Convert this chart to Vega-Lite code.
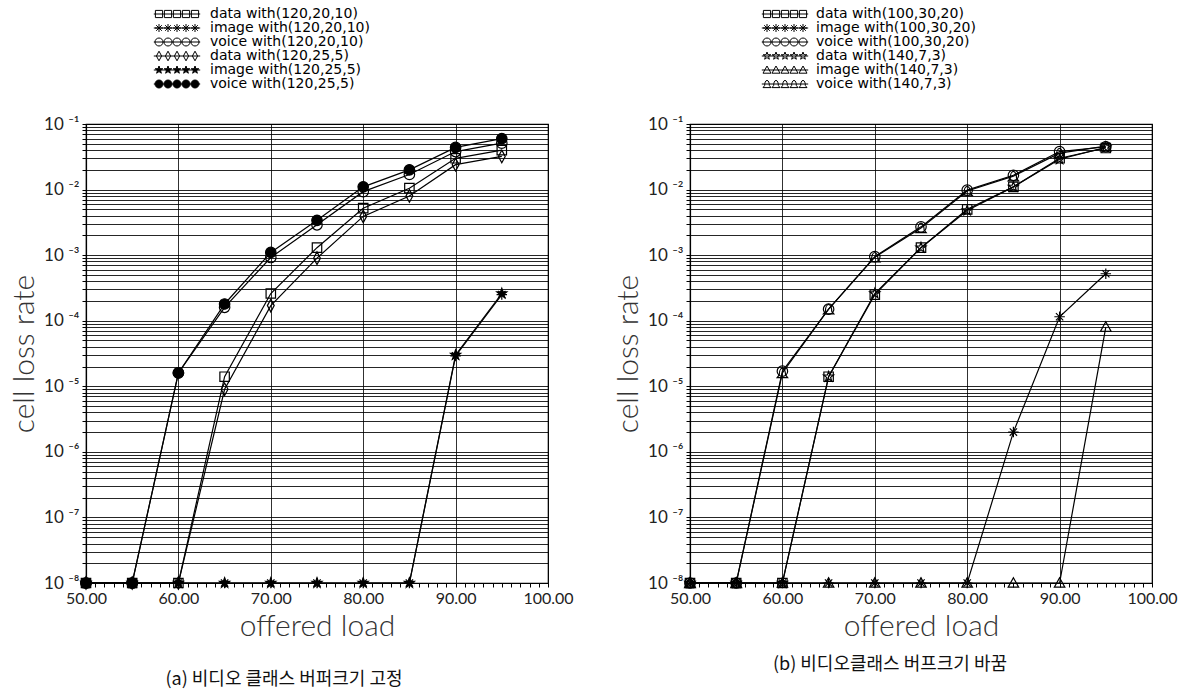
{
  "$schema": "https://vega.github.io/schema/vega-lite/v6.json",
  "padding": {"left": 8, "top": 6, "right": 5, "bottom": 5},
  "background": "white",
  "spacing": 38,
  "datasets": {
    "a": [
      {"s": "data with(120,20,10)", "x": 50, "y": 1e-8},
      {"s": "data with(120,20,10)", "x": 55, "y": 1e-8},
      {"s": "data with(120,20,10)", "x": 60, "y": 1e-8},
      {"s": "data with(120,20,10)", "x": 65, "y": 1.4e-5},
      {"s": "data with(120,20,10)", "x": 70, "y": 2.6e-4},
      {"s": "data with(120,20,10)", "x": 75, "y": 1.3e-3},
      {"s": "data with(120,20,10)", "x": 80, "y": 5.2e-3},
      {"s": "data with(120,20,10)", "x": 85, "y": 1.05e-2},
      {"s": "data with(120,20,10)", "x": 90, "y": 3.0e-2},
      {"s": "data with(120,20,10)", "x": 95, "y": 4.0e-2},
      {"s": "image with(120,20,10)", "x": 50, "y": 1e-8},
      {"s": "image with(120,20,10)", "x": 55, "y": 1e-8},
      {"s": "image with(120,20,10)", "x": 60, "y": 1e-8},
      {"s": "image with(120,20,10)", "x": 65, "y": 1e-8},
      {"s": "image with(120,20,10)", "x": 70, "y": 1e-8},
      {"s": "image with(120,20,10)", "x": 75, "y": 1e-8},
      {"s": "image with(120,20,10)", "x": 80, "y": 1e-8},
      {"s": "image with(120,20,10)", "x": 85, "y": 1e-8},
      {"s": "image with(120,20,10)", "x": 90, "y": 2.9e-5},
      {"s": "image with(120,20,10)", "x": 95, "y": 2.5e-4},
      {"s": "voice with(120,20,10)", "x": 50, "y": 1e-8},
      {"s": "voice with(120,20,10)", "x": 55, "y": 1e-8},
      {"s": "voice with(120,20,10)", "x": 60, "y": 1.6e-5},
      {"s": "voice with(120,20,10)", "x": 65, "y": 1.6e-4},
      {"s": "voice with(120,20,10)", "x": 70, "y": 9.2e-4},
      {"s": "voice with(120,20,10)", "x": 75, "y": 2.9e-3},
      {"s": "voice with(120,20,10)", "x": 80, "y": 9.3e-3},
      {"s": "voice with(120,20,10)", "x": 85, "y": 1.7e-2},
      {"s": "voice with(120,20,10)", "x": 90, "y": 3.8e-2},
      {"s": "voice with(120,20,10)", "x": 95, "y": 5.1e-2},
      {"s": "data with(120,25,5)", "x": 50, "y": 1e-8},
      {"s": "data with(120,25,5)", "x": 55, "y": 1e-8},
      {"s": "data with(120,25,5)", "x": 60, "y": 1e-8},
      {"s": "data with(120,25,5)", "x": 65, "y": 9e-6},
      {"s": "data with(120,25,5)", "x": 70, "y": 1.7e-4},
      {"s": "data with(120,25,5)", "x": 75, "y": 9e-4},
      {"s": "data with(120,25,5)", "x": 80, "y": 3.9e-3},
      {"s": "data with(120,25,5)", "x": 85, "y": 8e-3},
      {"s": "data with(120,25,5)", "x": 90, "y": 2.4e-2},
      {"s": "data with(120,25,5)", "x": 95, "y": 3.2e-2},
      {"s": "image with(120,25,5)", "x": 50, "y": 1e-8},
      {"s": "image with(120,25,5)", "x": 55, "y": 1e-8},
      {"s": "image with(120,25,5)", "x": 60, "y": 1e-8},
      {"s": "image with(120,25,5)", "x": 65, "y": 1e-8},
      {"s": "image with(120,25,5)", "x": 70, "y": 1e-8},
      {"s": "image with(120,25,5)", "x": 75, "y": 1e-8},
      {"s": "image with(120,25,5)", "x": 80, "y": 1e-8},
      {"s": "image with(120,25,5)", "x": 85, "y": 1e-8},
      {"s": "image with(120,25,5)", "x": 90, "y": 3.0e-5},
      {"s": "image with(120,25,5)", "x": 95, "y": 2.6e-4},
      {"s": "voice with(120,25,5)", "x": 50, "y": 1e-8},
      {"s": "voice with(120,25,5)", "x": 55, "y": 1e-8},
      {"s": "voice with(120,25,5)", "x": 60, "y": 1.6e-5},
      {"s": "voice with(120,25,5)", "x": 65, "y": 1.8e-4},
      {"s": "voice with(120,25,5)", "x": 70, "y": 1.1e-3},
      {"s": "voice with(120,25,5)", "x": 75, "y": 3.4e-3},
      {"s": "voice with(120,25,5)", "x": 80, "y": 1.1e-2},
      {"s": "voice with(120,25,5)", "x": 85, "y": 2.0e-2},
      {"s": "voice with(120,25,5)", "x": 90, "y": 4.4e-2},
      {"s": "voice with(120,25,5)", "x": 95, "y": 6.0e-2}
    ],
    "b": [
      {"s": "data with(100,30,20)", "x": 50, "y": 1e-8},
      {"s": "data with(100,30,20)", "x": 55, "y": 1e-8},
      {"s": "data with(100,30,20)", "x": 60, "y": 1e-8},
      {"s": "data with(100,30,20)", "x": 65, "y": 1.4e-5},
      {"s": "data with(100,30,20)", "x": 70, "y": 2.5e-4},
      {"s": "data with(100,30,20)", "x": 75, "y": 1.3e-3},
      {"s": "data with(100,30,20)", "x": 80, "y": 5.0e-3},
      {"s": "data with(100,30,20)", "x": 85, "y": 1.1e-2},
      {"s": "data with(100,30,20)", "x": 90, "y": 3.0e-2},
      {"s": "data with(100,30,20)", "x": 95, "y": 4.3e-2},
      {"s": "image with(100,30,20)", "x": 50, "y": 1e-8},
      {"s": "image with(100,30,20)", "x": 55, "y": 1e-8},
      {"s": "image with(100,30,20)", "x": 60, "y": 1e-8},
      {"s": "image with(100,30,20)", "x": 65, "y": 1e-8},
      {"s": "image with(100,30,20)", "x": 70, "y": 1e-8},
      {"s": "image with(100,30,20)", "x": 75, "y": 1e-8},
      {"s": "image with(100,30,20)", "x": 80, "y": 1e-8},
      {"s": "image with(100,30,20)", "x": 85, "y": 2.0e-6},
      {"s": "image with(100,30,20)", "x": 90, "y": 1.15e-4},
      {"s": "image with(100,30,20)", "x": 95, "y": 5.2e-4},
      {"s": "voice with(100,30,20)", "x": 50, "y": 1e-8},
      {"s": "voice with(100,30,20)", "x": 55, "y": 1e-8},
      {"s": "voice with(100,30,20)", "x": 60, "y": 1.7e-5},
      {"s": "voice with(100,30,20)", "x": 65, "y": 1.5e-4},
      {"s": "voice with(100,30,20)", "x": 70, "y": 9.5e-4},
      {"s": "voice with(100,30,20)", "x": 75, "y": 2.7e-3},
      {"s": "voice with(100,30,20)", "x": 80, "y": 9.8e-3},
      {"s": "voice with(100,30,20)", "x": 85, "y": 1.65e-2},
      {"s": "voice with(100,30,20)", "x": 90, "y": 3.8e-2},
      {"s": "voice with(100,30,20)", "x": 95, "y": 4.5e-2},
      {"s": "data with(140,7,3)", "x": 50, "y": 1e-8},
      {"s": "data with(140,7,3)", "x": 55, "y": 1e-8},
      {"s": "data with(140,7,3)", "x": 60, "y": 1e-8},
      {"s": "data with(140,7,3)", "x": 65, "y": 1.4e-5},
      {"s": "data with(140,7,3)", "x": 70, "y": 2.6e-4},
      {"s": "data with(140,7,3)", "x": 75, "y": 1.3e-3},
      {"s": "data with(140,7,3)", "x": 80, "y": 4.8e-3},
      {"s": "data with(140,7,3)", "x": 85, "y": 1.1e-2},
      {"s": "data with(140,7,3)", "x": 90, "y": 2.9e-2},
      {"s": "data with(140,7,3)", "x": 95, "y": 4.4e-2},
      {"s": "image with(140,7,3)", "x": 50, "y": 1e-8},
      {"s": "image with(140,7,3)", "x": 55, "y": 1e-8},
      {"s": "image with(140,7,3)", "x": 60, "y": 1e-8},
      {"s": "image with(140,7,3)", "x": 65, "y": 1e-8},
      {"s": "image with(140,7,3)", "x": 70, "y": 1e-8},
      {"s": "image with(140,7,3)", "x": 75, "y": 1e-8},
      {"s": "image with(140,7,3)", "x": 80, "y": 1e-8},
      {"s": "image with(140,7,3)", "x": 85, "y": 1e-8},
      {"s": "image with(140,7,3)", "x": 90, "y": 1e-8},
      {"s": "image with(140,7,3)", "x": 95, "y": 8e-5},
      {"s": "voice with(140,7,3)", "x": 50, "y": 1e-8},
      {"s": "voice with(140,7,3)", "x": 55, "y": 1e-8},
      {"s": "voice with(140,7,3)", "x": 60, "y": 1.6e-5},
      {"s": "voice with(140,7,3)", "x": 65, "y": 1.5e-4},
      {"s": "voice with(140,7,3)", "x": 70, "y": 9.3e-4},
      {"s": "voice with(140,7,3)", "x": 75, "y": 2.6e-3},
      {"s": "voice with(140,7,3)", "x": 80, "y": 9.5e-3},
      {"s": "voice with(140,7,3)", "x": 85, "y": 1.6e-2},
      {"s": "voice with(140,7,3)", "x": 90, "y": 3.6e-2},
      {"s": "voice with(140,7,3)", "x": 95, "y": 4.6e-2}
    ]
  },
  "resolve": {
    "scale": {"x": "independent", "y": "independent", "shape": "independent", "fill": "independent"},
    "legend": {"shape": "independent", "fill": "independent"}
  },
  "hconcat": [
    {
      "width": 462,
      "height": 459,
      "data": {"name": "a"},
      "title": {"text": "(a) 비디오 클래스 버퍼크기 고정", "orient": "bottom", "anchor": "middle", "dx": -33, "offset": 30, "font": "Noto Sans CJK KR", "fontSize": 18, "fontWeight": "normal", "color": "#111"},
      "encoding": {
        "x": {"field": "x", "type": "quantitative", "scale": {"domain": [50, 100], "nice": false, "zero": false},
          "axis": {"title": "offered load", "values": [50,51,52,53,54,55,56,57,58,59,60,61,62,63,64,65,66,67,68,69,70,71,72,73,74,75,76,77,78,79,80,81,82,83,84,85,86,87,88,89,90,91,92,93,94,95,96,97,98,99,100],
            "labelExpr": "datum.value % 10 === 0 ? format(datum.value, '.2f') : ''",
            "gridOpacity": {"condition": {"test": "datum.value % 10 === 0", "value": 0.95}, "value": 0}}},
        "y": {"field": "y", "type": "quantitative", "scale": {"type": "log", "domain": [1e-8, 0.1], "nice": false},
          "axis": {"title": "cell loss rate", "values": [1e-8,2e-8,3e-8,4e-8,5e-8,6e-8,7e-8,8e-8,9e-8,1e-7,2e-7,3e-7,4e-7,5e-7,6e-7,7e-7,8e-7,9e-7,1e-6,2e-6,3e-6,4e-6,5e-6,6e-6,7e-6,8e-6,9e-6,1e-5,2e-5,3e-5,4e-5,5e-5,6e-5,7e-5,8e-5,9e-5,1e-4,2e-4,3e-4,4e-4,5e-4,6e-4,7e-4,8e-4,9e-4,1e-3,2e-3,3e-3,4e-3,5e-3,6e-3,7e-3,8e-3,9e-3,1e-2,2e-2,3e-2,4e-2,5e-2,6e-2,7e-2,8e-2,9e-2,1e-1],
            "labelExpr": "abs(log(datum.value)/LN10 - round(log(datum.value)/LN10)) < 0.001 ? '10 ⁻' + ['0','¹','²','³','⁴','⁵','⁶','⁷','⁸'][-round(log(datum.value)/LN10)] : ''"}}
      },
      "layer": [
        {"mark": {"type": "line", "color": "black", "strokeWidth": 1.2}, "encoding": {"detail": {"field": "s"}}},
        {"mark": {"type": "point", "filled": true, "stroke": "black", "strokeWidth": 1.2, "size": 110, "opacity": 1},
          "encoding": {
            "shape": {"field": "s", "type": "nominal", "legend": null,
              "scale": {"domain": ["voice with(120,25,5)", "image with(120,25,5)", "data with(120,25,5)", "voice with(120,20,10)", "image with(120,20,10)", "data with(120,20,10)"],
                "range": ["M-1,0a1,1 0 1,0 2,0a1,1 0 1,0 -2,0Z", "M0,-1l0.235,0.676l0.716,0.015l-0.571,0.433l0.208,0.685l-0.588,-0.409l-0.588,0.409l0.208,-0.685l-0.571,-0.433l0.716,-0.015Z", "M0,-1.2l0.65,1.2l-0.65,1.2l-0.65,-1.2Z", "M-1,0a1,1 0 1,0 2,0a1,1 0 1,0 -2,0Z", "M-1,0h2M0,-1v2M-0.7,-0.7l1.4,1.4M-0.7,0.7l1.4,-1.4", "M-0.9,-0.9h1.8v1.8h-1.8Z"]}},
            "fill": {"field": "s", "type": "nominal",
              "scale": {"domain": ["data with(120,20,10)", "image with(120,20,10)", "voice with(120,20,10)", "data with(120,25,5)", "image with(120,25,5)", "voice with(120,25,5)"],
                "range": ["transparent", "transparent", "transparent", "transparent", "black", "black"]},
              "legend": {"title": null, "orient": "none", "legendX": 84, "legendY": -117, "direction": "vertical", "padding": 0, "rowPadding": 0, "labelFont": "DejaVu Sans", "labelFontSize": 14, "labelColor": "black", "labelLimit": 400, "labelOffset": 26, "symbolSize": 64, "symbolStrokeWidth": 1, "symbolStrokeColor": "black", "symbolOpacity": 1,
                "symbolType": {"expr": "'M-5.8,0L5.8,0' + ['M-5.4,-0.9h1.8v1.8h-1.8ZM-3.15,-0.9h1.8v1.8h-1.8ZM-0.9,-0.9h1.8v1.8h-1.8ZM1.35,-0.9h1.8v1.8h-1.8ZM3.6,-0.9h1.8v1.8h-1.8Z', 'M-5.5,0h2M-4.5,-1v2M-5.2,-0.7l1.4,1.4M-5.2,0.7l1.4,-1.4M-3.25,0h2M-2.25,-1v2M-2.95,-0.7l1.4,1.4M-2.95,0.7l1.4,-1.4M-1,0h2M0,-1v2M-0.7,-0.7l1.4,1.4M-0.7,0.7l1.4,-1.4M1.25,0h2M2.25,-1v2M1.55,-0.7l1.4,1.4M1.55,0.7l1.4,-1.4M3.5,0h2M4.5,-1v2M3.8,-0.7l1.4,1.4M3.8,0.7l1.4,-1.4', 'M-5.5,0a1,1 0 1,0 2,0a1,1 0 1,0 -2,0ZM-3.25,0a1,1 0 1,0 2,0a1,1 0 1,0 -2,0ZM-1,0a1,1 0 1,0 2,0a1,1 0 1,0 -2,0ZM1.25,0a1,1 0 1,0 2,0a1,1 0 1,0 -2,0ZM3.5,0a1,1 0 1,0 2,0a1,1 0 1,0 -2,0Z', 'M-4.5,-1.2l0.65,1.2l-0.65,1.2l-0.65,-1.2ZM-2.25,-1.2l0.65,1.2l-0.65,1.2l-0.65,-1.2ZM0,-1.2l0.65,1.2l-0.65,1.2l-0.65,-1.2ZM2.25,-1.2l0.65,1.2l-0.65,1.2l-0.65,-1.2ZM4.5,-1.2l0.65,1.2l-0.65,1.2l-0.65,-1.2Z', 'M-4.5,-1l0.235,0.676l0.716,0.015l-0.571,0.433l0.208,0.685l-0.588,-0.409l-0.588,0.409l0.208,-0.685l-0.571,-0.433l0.716,-0.015ZM-2.25,-1l0.235,0.676l0.716,0.015l-0.571,0.433l0.208,0.685l-0.588,-0.409l-0.588,0.409l0.208,-0.685l-0.571,-0.433l0.716,-0.015ZM0,-1l0.235,0.676l0.716,0.015l-0.571,0.433l0.208,0.685l-0.588,-0.409l-0.588,0.409l0.208,-0.685l-0.571,-0.433l0.716,-0.015ZM2.25,-1l0.235,0.676l0.716,0.015l-0.571,0.433l0.208,0.685l-0.588,-0.409l-0.588,0.409l0.208,-0.685l-0.571,-0.433l0.716,-0.015ZM4.5,-1l0.235,0.676l0.716,0.015l-0.571,0.433l0.208,0.685l-0.588,-0.409l-0.588,0.409l0.208,-0.685l-0.571,-0.433l0.716,-0.015Z', 'M-5.5,0a1,1 0 1,0 2,0a1,1 0 1,0 -2,0ZM-3.25,0a1,1 0 1,0 2,0a1,1 0 1,0 -2,0ZM-1,0a1,1 0 1,0 2,0a1,1 0 1,0 -2,0ZM1.25,0a1,1 0 1,0 2,0a1,1 0 1,0 -2,0ZM3.5,0a1,1 0 1,0 2,0a1,1 0 1,0 -2,0Z'][indexof(['data with(120,20,10)','image with(120,20,10)','voice with(120,20,10)','data with(120,25,5)','image with(120,25,5)','voice with(120,25,5)'], datum.value)]"}}}
          }}
      ]
    },
    {
      "width": 462,
      "height": 459,
      "data": {"name": "b"},
      "title": {"text": "(b) 비디오클래스 버프크기 바꿈", "orient": "bottom", "anchor": "middle", "dx": -31, "offset": 15, "font": "Noto Sans CJK KR", "fontSize": 18, "fontWeight": "normal", "color": "#111"},
      "encoding": {
        "x": {"field": "x", "type": "quantitative", "scale": {"domain": [50, 100], "nice": false, "zero": false},
          "axis": {"title": "offered load", "values": [50,51,52,53,54,55,56,57,58,59,60,61,62,63,64,65,66,67,68,69,70,71,72,73,74,75,76,77,78,79,80,81,82,83,84,85,86,87,88,89,90,91,92,93,94,95,96,97,98,99,100],
            "labelExpr": "datum.value % 10 === 0 ? format(datum.value, '.2f') : ''",
            "gridOpacity": {"condition": {"test": "datum.value % 10 === 0", "value": 0.95}, "value": 0}}},
        "y": {"field": "y", "type": "quantitative", "scale": {"type": "log", "domain": [1e-8, 0.1], "nice": false},
          "axis": {"title": "cell loss rate", "values": [1e-8,2e-8,3e-8,4e-8,5e-8,6e-8,7e-8,8e-8,9e-8,1e-7,2e-7,3e-7,4e-7,5e-7,6e-7,7e-7,8e-7,9e-7,1e-6,2e-6,3e-6,4e-6,5e-6,6e-6,7e-6,8e-6,9e-6,1e-5,2e-5,3e-5,4e-5,5e-5,6e-5,7e-5,8e-5,9e-5,1e-4,2e-4,3e-4,4e-4,5e-4,6e-4,7e-4,8e-4,9e-4,1e-3,2e-3,3e-3,4e-3,5e-3,6e-3,7e-3,8e-3,9e-3,1e-2,2e-2,3e-2,4e-2,5e-2,6e-2,7e-2,8e-2,9e-2,1e-1],
            "labelExpr": "abs(log(datum.value)/LN10 - round(log(datum.value)/LN10)) < 0.001 ? '10 ⁻' + ['0','¹','²','³','⁴','⁵','⁶','⁷','⁸'][-round(log(datum.value)/LN10)] : ''"}}
      },
      "layer": [
        {"mark": {"type": "line", "color": "black", "strokeWidth": 1.2}, "encoding": {"detail": {"field": "s"}}},
        {"mark": {"type": "point", "filled": true, "stroke": "black", "strokeWidth": 1.2, "size": 110, "opacity": 1},
          "encoding": {
            "shape": {"field": "s", "type": "nominal", "legend": null,
              "scale": {"domain": ["voice with(140,7,3)", "image with(140,7,3)", "data with(140,7,3)", "voice with(100,30,20)", "image with(100,30,20)", "data with(100,30,20)"],
                "range": ["M-1,0.9h2l-0.4,-0.5c0,-0.6 -0.2,-1.3 -0.6,-1.3c-0.4,0 -0.6,0.7 -0.6,1.3Z", "M0,-1l1,1.8h-2Z", "M0,-1l0.235,0.676l0.716,0.015l-0.571,0.433l0.208,0.685l-0.588,-0.409l-0.588,0.409l0.208,-0.685l-0.571,-0.433l0.716,-0.015Z", "M-1,0a1,1 0 1,0 2,0a1,1 0 1,0 -2,0Z", "M-1,0h2M0,-1v2M-0.7,-0.7l1.4,1.4M-0.7,0.7l1.4,-1.4", "M-0.9,-0.9h1.8v1.8h-1.8Z"]}},
            "fill": {"field": "s", "type": "nominal",
              "scale": {"domain": ["data with(100,30,20)", "image with(100,30,20)", "voice with(100,30,20)", "data with(140,7,3)", "image with(140,7,3)", "voice with(140,7,3)"],
                "range": ["transparent", "transparent", "transparent", "transparent", "transparent", "transparent"]},
              "legend": {"title": null, "orient": "none", "legendX": 88, "legendY": -117, "direction": "vertical", "padding": 0, "rowPadding": 0, "labelFont": "DejaVu Sans", "labelFontSize": 14, "labelColor": "black", "labelLimit": 400, "labelOffset": 24, "symbolSize": 64, "symbolStrokeWidth": 1, "symbolStrokeColor": "black", "symbolOpacity": 1,
                "symbolType": {"expr": "'M-5.8,0L5.8,0' + ['M-5.4,-0.9h1.8v1.8h-1.8ZM-3.15,-0.9h1.8v1.8h-1.8ZM-0.9,-0.9h1.8v1.8h-1.8ZM1.35,-0.9h1.8v1.8h-1.8ZM3.6,-0.9h1.8v1.8h-1.8Z', 'M-5.5,0h2M-4.5,-1v2M-5.2,-0.7l1.4,1.4M-5.2,0.7l1.4,-1.4M-3.25,0h2M-2.25,-1v2M-2.95,-0.7l1.4,1.4M-2.95,0.7l1.4,-1.4M-1,0h2M0,-1v2M-0.7,-0.7l1.4,1.4M-0.7,0.7l1.4,-1.4M1.25,0h2M2.25,-1v2M1.55,-0.7l1.4,1.4M1.55,0.7l1.4,-1.4M3.5,0h2M4.5,-1v2M3.8,-0.7l1.4,1.4M3.8,0.7l1.4,-1.4', 'M-5.5,0a1,1 0 1,0 2,0a1,1 0 1,0 -2,0ZM-3.25,0a1,1 0 1,0 2,0a1,1 0 1,0 -2,0ZM-1,0a1,1 0 1,0 2,0a1,1 0 1,0 -2,0ZM1.25,0a1,1 0 1,0 2,0a1,1 0 1,0 -2,0ZM3.5,0a1,1 0 1,0 2,0a1,1 0 1,0 -2,0Z', 'M-4.5,-1l0.235,0.676l0.716,0.015l-0.571,0.433l0.208,0.685l-0.588,-0.409l-0.588,0.409l0.208,-0.685l-0.571,-0.433l0.716,-0.015ZM-2.25,-1l0.235,0.676l0.716,0.015l-0.571,0.433l0.208,0.685l-0.588,-0.409l-0.588,0.409l0.208,-0.685l-0.571,-0.433l0.716,-0.015ZM0,-1l0.235,0.676l0.716,0.015l-0.571,0.433l0.208,0.685l-0.588,-0.409l-0.588,0.409l0.208,-0.685l-0.571,-0.433l0.716,-0.015ZM2.25,-1l0.235,0.676l0.716,0.015l-0.571,0.433l0.208,0.685l-0.588,-0.409l-0.588,0.409l0.208,-0.685l-0.571,-0.433l0.716,-0.015ZM4.5,-1l0.235,0.676l0.716,0.015l-0.571,0.433l0.208,0.685l-0.588,-0.409l-0.588,0.409l0.208,-0.685l-0.571,-0.433l0.716,-0.015Z', 'M-4.5,-1l1,1.8h-2ZM-2.25,-1l1,1.8h-2ZM0,-1l1,1.8h-2ZM2.25,-1l1,1.8h-2ZM4.5,-1l1,1.8h-2Z', 'M-5.5,0.9h2l-0.4,-0.5c0,-0.6 -0.2,-1.3 -0.6,-1.3c-0.4,0 -0.6,0.7 -0.6,1.3ZM-3.25,0.9h2l-0.4,-0.5c0,-0.6 -0.2,-1.3 -0.6,-1.3c-0.4,0 -0.6,0.7 -0.6,1.3ZM-1,0.9h2l-0.4,-0.5c0,-0.6 -0.2,-1.3 -0.6,-1.3c-0.4,0 -0.6,0.7 -0.6,1.3ZM1.25,0.9h2l-0.4,-0.5c0,-0.6 -0.2,-1.3 -0.6,-1.3c-0.4,0 -0.6,0.7 -0.6,1.3ZM3.5,0.9h2l-0.4,-0.5c0,-0.6 -0.2,-1.3 -0.6,-1.3c-0.4,0 -0.6,0.7 -0.6,1.3Z'][indexof(['data with(100,30,20)','image with(100,30,20)','voice with(100,30,20)','data with(140,7,3)','image with(140,7,3)','voice with(140,7,3)'], datum.value)]"}}}
          }}
      ]
    }
  ],
  "config": {
    "view": {"stroke": "black", "strokeWidth": 1.2},
    "axis": {
      "grid": true,
      "gridColor": "#000",
      "gridOpacity": 0.85,
      "gridWidth": 1,
      "domainColor": "black",
      "domainWidth": 1.2,
      "tickColor": "black",
      "tickSize": 4,
      "labelFont": "Lato",
      "labelFontSize": 16,
      "labelColor": "#222",
      "labelPadding": 3,
      "labelOverlap": false,
      "labelBound": false,
      "labelFlush": false,
      "titleFont": "Lato",
      "titleFontSize": 30,
      "titleFontWeight": 300,
      "titleColor": "#333"
    },
    "axisX": {"titlePadding": 5},
    "axisY": {"titlePadding": 4, "labelFontSize": 17}
  }
}
